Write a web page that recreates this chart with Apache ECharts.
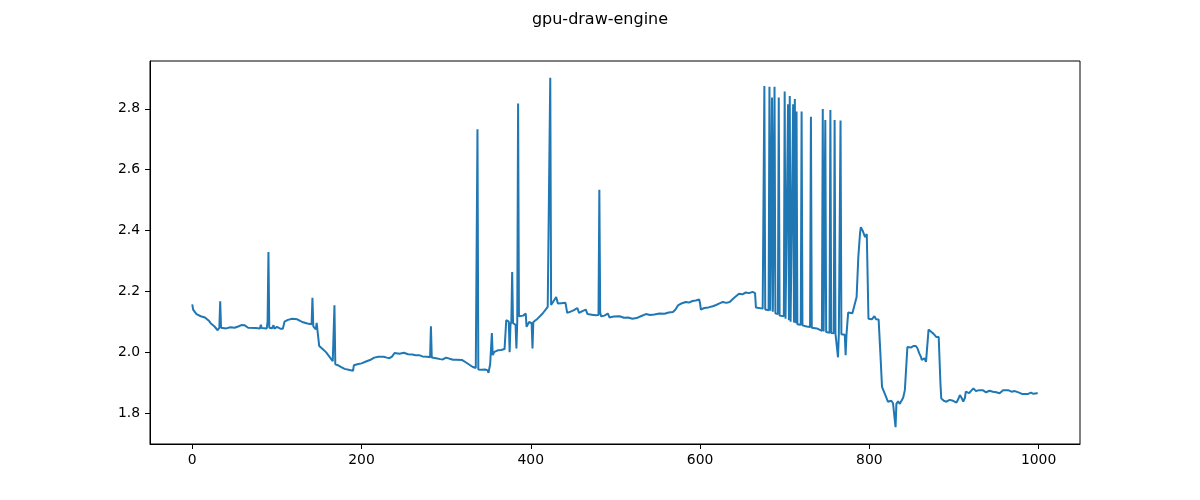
<!DOCTYPE html>
<html>
<head>
<meta charset="utf-8">
<title>gpu-draw-engine</title>
<script src="https://cdn.jsdelivr.net/npm/echarts@6/dist/echarts.min.js"></script>
<style>
  html, body { margin: 0; padding: 0; background: #fff; }
  #chart { width: 1200px; height: 500px; }
</style>
</head>
<body>
<div id="chart"></div>
<script>
// sample index / frame draw time in pieces
const startIdx = [0, 1, 2, 5, 10, 15, 16, 20, 22, 26, 30, 32, 33, 34, 40, 45, 50, 55, 58, 62, 66, 75, 80, 81, 82, 88, 89, 90, 91, 94, 96, 97, 100, 104, 107, 109, 113, 118, 124, 128, 131, 136, 138, 141, 142, 143, 144, 146, 147, 148, 150, 154, 158, 162, 166, 167, 168, 169, 172, 176, 180, 186, 190, 191, 195, 200, 206, 210, 215, 220, 226, 230, 233, 236, 239, 245, 250, 255, 260, 264, 268, 272, 278, 281, 282, 283, 288, 293, 296, 300, 302, 308, 312, 319, 324, 331, 335, 336, 337, 338, 342, 346, 349, 350, 352, 353, 354, 355, 357, 361, 365, 369, 371, 373, 374, 375, 376, 377, 378, 379, 381, 382, 383, 384, 385, 386, 388, 391, 394, 395, 398, 401, 402, 403, 404, 408, 414, 420, 422, 423, 424, 426, 430, 432, 436, 441, 443, 447, 451, 453, 455, 457, 461, 465, 467, 472, 477, 480, 481, 482, 483, 487, 491, 493, 498, 505, 510, 515, 520, 525, 530, 536, 541, 546, 552, 558, 563, 568, 571, 574, 578, 583, 587, 591, 595, 599, 600, 601, 605, 610, 615, 619, 623, 627, 631, 635, 640, 646, 650, 654, 658, 662, 665];
const startTime = [2.157, 2.14, 2.134, 2.125, 2.118, 2.114, 2.11, 2.102, 2.094, 2.085, 2.072, 2.08, 2.167, 2.08, 2.078, 2.082, 2.08, 2.085, 2.089, 2.088, 2.08, 2.079, 2.078, 2.09, 2.079, 2.078, 2.1, 2.329, 2.08, 2.078, 2.088, 2.077, 2.083, 2.077, 2.077, 2.1, 2.106, 2.11, 2.108, 2.102, 2.098, 2.094, 2.1, 2.092, 2.179, 2.085, 2.08, 2.075, 2.096, 2.07, 2.02, 2.01, 2.0, 1.985, 1.97, 1.965, 2.154, 1.96, 1.957, 1.951, 1.945, 1.941, 1.939, 1.957, 1.96, 1.963, 1.97, 1.974, 1.982, 1.985, 1.985, 1.982, 1.98, 1.985, 1.997, 1.995, 1.998, 1.993, 1.992, 1.99, 1.99, 1.986, 1.985, 1.983, 2.085, 1.982, 1.98, 1.977, 1.976, 1.982, 1.976, 1.975, 1.975, 1.974, 1.965, 1.952, 1.948, 1.95, 2.733, 1.943, 1.942, 1.943, 1.94, 1.932, 1.96, 1.965, 2.063, 1.99, 2.001, 2.006, 2.007, 2.01, 2.105, 2.1, 2.1, 2.0, 2.09, 2.1, 2.263, 2.095, 2.094, 2.09, 2.012, 2.1, 2.817, 2.118, 2.116, 2.12, 2.127, 2.083, 2.099, 2.095, 2.012, 2.099, 2.1, 2.11, 2.127, 2.149, 2.15, 2.902, 2.155, 2.16, 2.181, 2.16, 2.161, 2.162, 2.129, 2.133, 2.138, 2.132, 2.145, 2.129, 2.135, 2.14, 2.125, 2.123, 2.121, 2.122, 2.534, 2.13, 2.118, 2.12, 2.127, 2.114, 2.117, 2.118, 2.113, 2.114, 2.11, 2.112, 2.118, 2.125, 2.122, 2.124, 2.127, 2.126, 2.13, 2.132, 2.14, 2.154, 2.16, 2.165, 2.163, 2.168, 2.17, 2.173, 2.16, 2.14, 2.145, 2.147, 2.151, 2.155, 2.16, 2.165, 2.162, 2.165, 2.178, 2.192, 2.19, 2.196, 2.194, 2.198, 2.194];

// the burst of spikes between ~670 and ~770
const burstIdx = [666, 674, 675, 676, 677, 681, 682, 683, 684, 685, 686, 687, 688, 689, 692, 693, 694, 699, 700, 701, 703, 704, 705, 706, 707, 709, 710, 711, 712, 713, 714, 715, 719, 720, 721, 726, 730, 731, 732, 738, 744, 745, 746, 747, 748, 749, 753, 754, 755, 758, 759, 760, 762, 763, 764, 765, 766, 767, 771, 772, 773];
const burstTime = [2.147, 2.143, 2.142, 2.875, 2.14, 2.138, 2.872, 2.136, 2.135, 2.837, 2.133, 2.13, 2.872, 2.128, 2.125, 2.837, 2.12, 2.118, 2.857, 2.11, 2.108, 2.815, 2.105, 2.842, 2.1, 2.098, 2.815, 2.097, 2.832, 2.095, 2.791, 2.092, 2.09, 2.791, 2.088, 2.084, 2.083, 2.774, 2.08, 2.078, 2.07, 2.799, 2.068, 2.067, 2.763, 2.066, 2.064, 2.796, 2.063, 2.062, 2.763, 2.061, 2.06, 1.983, 2.06, 2.06, 2.761, 2.059, 2.057, 1.99, 2.056];

const tailIdx = [775, 780, 782, 785, 787, 789, 790, 792, 794, 795, 797, 798, 799, 803, 806, 808, 811, 813, 815, 818, 820, 822, 826, 828, 830, 831, 832, 834, 836, 838, 840, 842, 843, 845, 849, 852, 855, 857, 859, 861, 862, 865, 867, 869, 870, 872, 873, 876, 879, 882, 884, 885, 888, 891, 895, 899, 903, 905, 907, 909, 911, 913, 914, 918, 920, 923, 926, 930, 934, 938, 942, 946, 950, 954, 958, 960, 964, 968, 972, 977, 981, 983, 987, 991, 994, 998, 999];
const tailTime = [2.13, 2.128, 2.132, 2.181, 2.312, 2.39, 2.411, 2.4, 2.394, 2.378, 2.388, 2.384, 2.11, 2.108, 2.118, 2.108, 2.107, 2.0, 1.886, 1.865, 1.862, 1.837, 1.84, 1.832, 1.835, 1.753, 1.83, 1.838, 1.83, 1.825, 1.85, 1.875, 1.88, 2.017, 2.015, 2.02, 2.02, 2.012, 1.996, 1.985, 1.974, 1.98, 1.968, 1.965, 2.074, 2.07, 2.067, 2.06, 2.05, 2.05, 1.9, 1.848, 1.84, 1.837, 1.843, 1.84, 1.834, 1.845, 1.859, 1.85, 1.837, 1.85, 1.87, 1.865, 1.872, 1.881, 1.872, 1.875, 1.875, 1.868, 1.873, 1.87, 1.868, 1.865, 1.875, 1.881, 1.875, 1.87, 1.872, 1.867, 1.862, 1.859, 1.862, 1.867, 1.863, 1.865, 1.865];

const xTicks = [0, 200, 400, 600, 800, 1000];
const yTicks = [1.8, 2.0, 2.2, 2.4, 2.6, 2.8];

const pairs = (xs, ys) => xs.map((x, i) => [x, ys[i]]);
const points = [
  ...pairs(startIdx, startTime),
  ...pairs(burstIdx, burstTime),
  ...pairs(tailIdx, tailTime),
];

const chart = echarts.init(document.getElementById('chart'));
const font = 'DejaVu Sans';
const axisCommon = {
  axisLine: { show: true, onZero: false, lineStyle: { color: '#000', width: 1 } },
  axisTick: { show: true, length: 5, lineStyle: { color: '#000', width: 1 } },
  splitLine: { show: false },
};

chart.setOption({
  animation: false,
  title: {
    text: 'gpu-draw-engine',
    left: 'center',
    top: 7,
    textStyle: { fontFamily: font, fontSize: 16, fontWeight: 'normal', color: '#000' },
  },
  grid: {
    left: 150, right: 120, top: 61, bottom: 56,
    show: true, borderColor: '#000', borderWidth: 1,
  },
  xAxis: {
    type: 'value',
    min: -49.95,
    max: 1048.95,
    ...axisCommon,
    axisTick: { ...axisCommon.axisTick, customValues: xTicks },
    axisLabel: {
      customValues: xTicks, margin: 9,
      fontFamily: font, fontSize: 13.9, color: '#000',
      formatter: v => String(v),
    },
  },
  yAxis: {
    type: 'value',
    min: 1.698,
    max: 2.957,
    ...axisCommon,
    axisTick: { ...axisCommon.axisTick, customValues: yTicks },
    axisLabel: {
      customValues: yTicks, margin: 10,
      fontFamily: font, fontSize: 13.9, color: '#000',
      formatter: v => v.toFixed(1),
    },
  },
  series: [
    {
      type: 'line',
      data: points,
      showSymbol: false,
      lineStyle: { color: '#1f77b4', width: 2 },
    },
  ],
});
</script>
</body>
</html>
